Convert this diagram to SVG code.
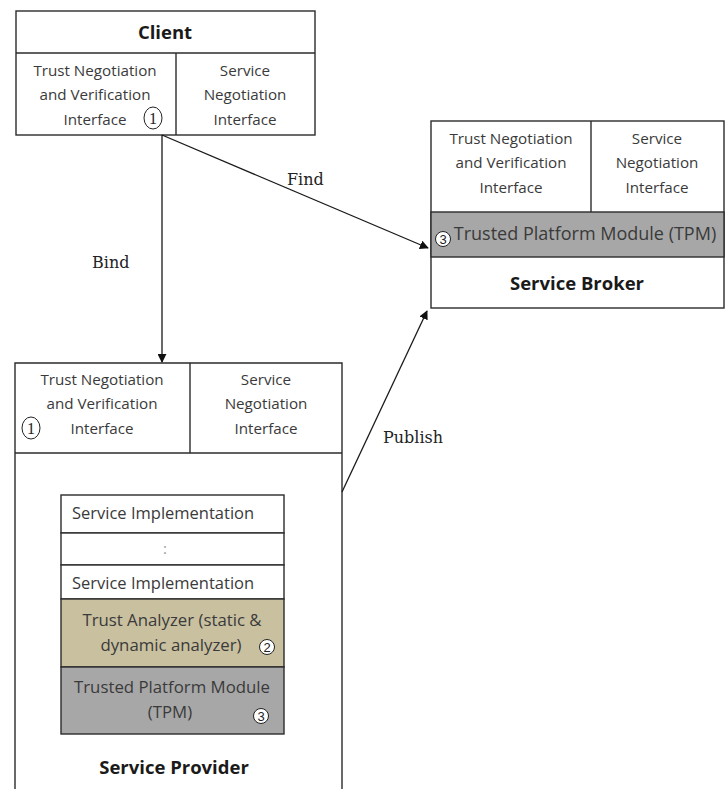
<svg xmlns="http://www.w3.org/2000/svg" width="725" height="789" viewBox="0 0 725 789">
  <style>
    .box { fill: #ffffff; stroke: #2b2b2b; stroke-width: 1.4; }
    .sep { stroke: #2b2b2b; stroke-width: 1.4; fill: none; }
    .txt { font-family: "Open Sans", "Liberation Sans", sans-serif; font-size: 15.2px; fill: #3a3a3a; text-anchor: middle; }
    .title { font-family: "Open Sans", "Liberation Sans", sans-serif; font-size: 18.5px; font-weight: bold; fill: #1a1a1a; text-anchor: middle; }
    .lbl { font-family: "DejaVu Serif", "Liberation Serif", serif; font-size: 16px; fill: #222; }
    .tan { fill: #c9c0a0; stroke: #2b2b2b; stroke-width: 1.4; }
    .gray { fill: #a7a7a7; stroke: #2b2b2b; stroke-width: 1.4; }
    .num { fill: #ffffff; stroke: #222; stroke-width: 1; }
    .numtxt { font-family: "Liberation Sans", sans-serif; font-size: 13px; fill: #222; text-anchor: middle; }
    .numser { font-family: "Liberation Serif", serif; font-size: 16px; fill: #222; text-anchor: middle; }
    .conn { stroke: #1a1a1a; stroke-width: 1.3; fill: none; marker-end: url(#arrow); }
  </style>
  <defs>
    <marker id="arrow" viewBox="0 0 10 10" refX="9" refY="5" markerWidth="9" markerHeight="9" markerUnits="userSpaceOnUse" orient="auto">
      <path d="M0,0 L10,5 L0,10 z" fill="#111"/>
    </marker>
  </defs>

  <rect width="725" height="789" fill="#ffffff"/>

  <!-- Client -->
  <g id="client">
    <rect class="box" x="16" y="11" width="299" height="124"/>
    <line class="sep" x1="16" y1="53" x2="315" y2="53"/>
    <line class="sep" x1="176" y1="53" x2="176" y2="135"/>
    <text class="title" x="165" y="39">Client</text>
    <text class="txt" x="95" y="76">Trust Negotiation</text>
    <text class="txt" x="95" y="100">and Verification</text>
    <text class="txt" x="95" y="125">Interface</text>
    <text class="txt" x="245" y="76">Service</text>
    <text class="txt" x="245" y="100">Negotiation</text>
    <text class="txt" x="245" y="125">Interface</text>
    <ellipse cx="153" cy="118" rx="9" ry="11" fill="none" stroke="#222" stroke-width="1"/>
    <text class="numser" x="153" y="123.5">1</text>
  </g>

  <!-- Service Broker -->
  <g id="broker">
    <rect class="box" x="431" y="121" width="293" height="187"/>
    <rect class="gray" x="431" y="212" width="293" height="45"/>
    <line class="sep" x1="591" y1="121" x2="591" y2="212"/>
    <text class="txt" x="511" y="144">Trust Negotiation</text>
    <text class="txt" x="511" y="168">and Verification</text>
    <text class="txt" x="511" y="193">Interface</text>
    <text class="txt" x="657" y="144">Service</text>
    <text class="txt" x="657" y="168">Negotiation</text>
    <text class="txt" x="657" y="193">Interface</text>
    <text class="txt" x="585" y="240" style="font-size:18px">Trusted Platform Module (TPM)</text>
    <circle class="num" cx="443" cy="239" r="7.5"/>
    <text class="numtxt" x="443" y="243.5">3</text>
    <text class="title" x="577" y="290">Service Broker</text>
  </g>

  <!-- Service Provider -->
  <g id="provider">
    <path class="sep" d="M15,800 V363 H342 V800"/>
    <line class="sep" x1="15" y1="453" x2="342" y2="453"/>
    <line class="sep" x1="190" y1="363" x2="190" y2="453"/>
    <text class="txt" x="102" y="385">Trust Negotiation</text>
    <text class="txt" x="102" y="409">and Verification</text>
    <text class="txt" x="102" y="434">Interface</text>
    <text class="txt" x="266" y="385">Service</text>
    <text class="txt" x="266" y="409">Negotiation</text>
    <text class="txt" x="266" y="434">Interface</text>
    <ellipse cx="31" cy="428" rx="9" ry="11" fill="none" stroke="#222" stroke-width="1"/>
    <text class="numser" x="31" y="433.5">1</text>

    <!-- inner component stack -->
    <rect class="box" x="61" y="495" width="223" height="38"/>
    <rect class="box" x="61" y="533" width="223" height="32"/>
    <rect class="box" x="61" y="565" width="223" height="34"/>
    <rect class="tan" x="61" y="599" width="223" height="68"/>
    <rect class="gray" x="61" y="667" width="223" height="67"/>
    <text class="txt" x="72" y="519" style="text-anchor:start;font-size:16.5px">Service Implementation</text>
    <text class="txt" x="165" y="554" style="fill:#9a9a9a">:</text>
    <text class="txt" x="72" y="589" style="text-anchor:start;font-size:16.5px">Service Implementation</text>
    <text class="txt" x="172" y="626" style="font-size:16.8px">Trust Analyzer (static &amp;</text>
    <text class="txt" x="171" y="651" style="font-size:16.8px">dynamic analyzer)</text>
    <circle class="num" cx="267" cy="647" r="7.5"/>
    <text class="numtxt" x="267" y="651.5">2</text>
    <text class="txt" x="172" y="693" style="font-size:16.8px">Trusted Platform Module</text>
    <text class="txt" x="170" y="718" style="font-size:16.8px">(TPM)</text>
    <circle class="num" cx="261" cy="716" r="7.5"/>
    <text class="numtxt" x="261" y="720.5">3</text>
    <text class="title" x="174" y="774">Service Provider</text>
  </g>

  <!-- Connectors -->
  <g id="connectors">
    <line class="conn" x1="162" y1="135" x2="162" y2="362"/>
    <line class="conn" x1="162" y1="135" x2="428" y2="248"/>
    <line class="conn" x1="342" y1="492" x2="427" y2="311"/>
    <text class="lbl" x="92" y="268">Bind</text>
    <text class="lbl" x="287" y="185">Find</text>
    <text class="lbl" x="383" y="443">Publish</text>
  </g>
</svg>
